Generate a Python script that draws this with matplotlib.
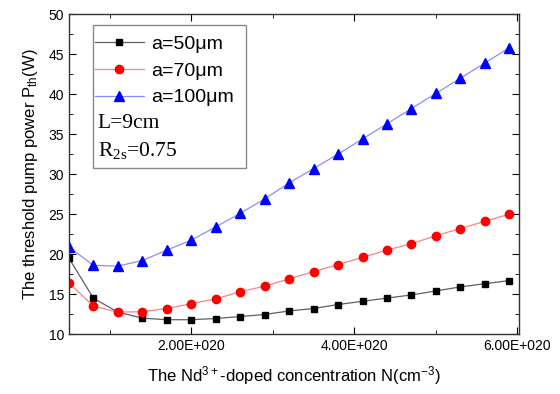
# threshold pump power vs Nd3+ concentration, three core radii

import numpy as np
import matplotlib
matplotlib.use('Agg')
import matplotlib.pyplot as plt
from matplotlib.ticker import MultipleLocator, FuncFormatter
from matplotlib.patches import Rectangle

# concentration (cm^-3)
N = np.array([0.5, 0.8, 1.1, 1.4, 1.7, 2.0, 2.3, 2.6, 2.9, 3.2,
              3.5, 3.8, 4.1, 4.4, 4.7, 5.0, 5.3, 5.6, 5.9]) * 1e20

p_50 = [19.5, 14.5, 12.75, 12.0, 11.8, 11.8, 11.95, 12.2, 12.45, 12.9,
        13.2, 13.7, 14.1, 14.5, 14.9, 15.4, 15.9, 16.3, 16.7]
p_70 = [16.4, 13.5, 12.75, 12.8, 13.2, 13.8, 14.4, 15.3, 16.0, 16.9,
        17.8, 18.7, 19.6, 20.5, 21.3, 22.3, 23.2, 24.1, 25.0]
p_100 = [20.9, 18.6, 18.5, 19.2, 20.5, 21.75, 23.4, 25.1, 26.9, 28.9,
         30.7, 32.5, 34.4, 36.3, 38.2, 40.1, 42.0, 43.9, 45.8]

labels = ['a=50\u03bcm', 'a=70\u03bcm', 'a=100\u03bcm']

sans = 'Liberation Sans'
serif = 'Liberation Serif'
plt.rcParams['font.family'] = sans

fig = plt.figure(figsize=(5.6, 3.94), dpi=100)
ax = fig.add_axes([0.123, 0.152, 0.804, 0.812])

ax.plot(N, p_50, color='#606060', lw=0.9, marker='s', ms=5, mfc='black', mec='black', label=labels[0])
ax.plot(N, p_70, color='#ff8080', lw=0.9, marker='o', ms=6, mfc='red', mec='red', label=labels[1])
ax.plot(N, p_100, color='#8c8cff', lw=0.9, marker='^', ms=7, mfc='blue', mec='blue', label=labels[2])

ax.set_xlim(0.5e20, 6.02e20)
ax.set_ylim(10, 50)

ax.xaxis.set_major_locator(MultipleLocator(2e20))
ax.xaxis.set_minor_locator(MultipleLocator(1e20))
ax.yaxis.set_major_locator(MultipleLocator(5))
ax.yaxis.set_minor_locator(MultipleLocator(2.5))

def sci(v, pos):
    if v == 0:
        return '0'
    e = int(np.floor(np.log10(abs(v))))
    return '%.2fE+%03d' % (v / 10**e, e)

ax.xaxis.set_major_formatter(FuncFormatter(sci))
ax.tick_params(which='both', direction='in', top=True, right=True, labelsize=10, colors='black')
ax.tick_params(which='major', length=5)
ax.tick_params(which='minor', length=3)
for s in ax.spines.values():
    s.set_linewidth(1.0)
    s.set_color('#333333')

ax.set_xlabel('The Nd$\\mathregular{^{3+}}$-doped concentration N(cm$\\mathregular{^{-3}}$)', fontsize=12, labelpad=8)
ax.set_ylabel('The threshold pump power P$\\mathregular{_{th}}$(W)', fontsize=12, labelpad=6)

# legend and the text box around it
leg = ax.legend(loc='upper left', bbox_to_anchor=(0.058, 0.935), frameon=False, fontsize=14,
                handlelength=2.5, numpoints=1, labelspacing=0.48, handletextpad=0.4, borderaxespad=0,
                borderpad=0)
ax.add_patch(Rectangle((0.053, 0.518), 0.34, 0.448, transform=ax.transAxes,
                       fill=False, edgecolor='#888888', lw=1.0, zorder=5))
ax.text(0.064, 0.659, 'L=9cm', transform=ax.transAxes, fontsize=15.5, family=serif, va='center')
ax.text(0.064, 0.574, 'R$\\mathregular{_{2s}}$=0.75', transform=ax.transAxes, fontsize=15.5, family=serif, va='center')

fig.savefig('out.png', dpi=100)
